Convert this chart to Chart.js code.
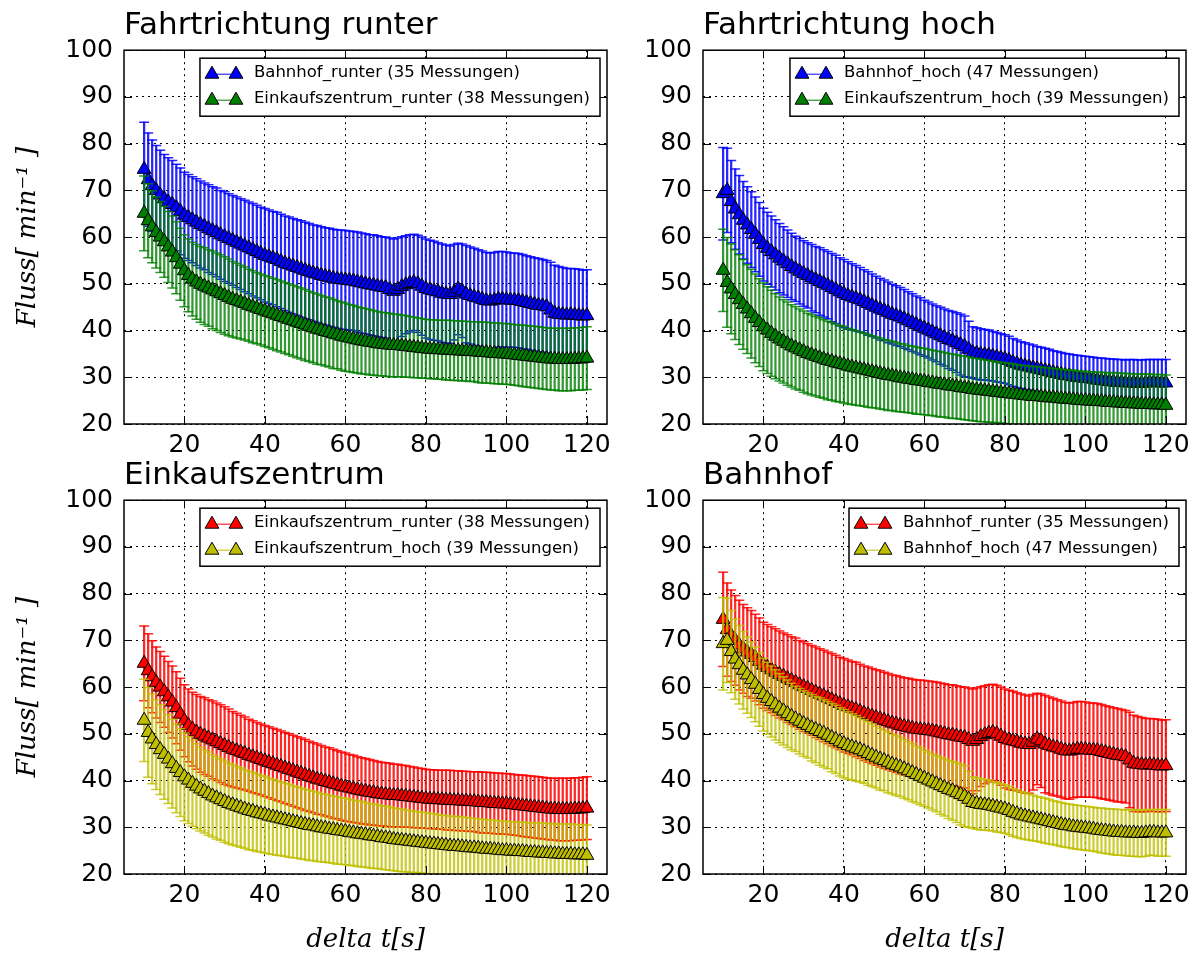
<!DOCTYPE html>
<html>
<head>
<meta charset="utf-8">
<script src="https://cdn.jsdelivr.net/npm/chart.js@4.4.1/dist/chart.umd.min.js"></script>
<style>
  body { margin: 0; background: #fff; width: 1200px; height: 958px; position: relative; overflow: hidden; }
  canvas { position: absolute; }
</style>
</head>
<body>
<canvas id="c1" width="620" height="470" style="left:0;top:0"></canvas>
<canvas id="c2" width="600" height="470" style="left:600px;top:0"></canvas>
<canvas id="c3" width="620" height="508" style="left:0;top:450px"></canvas>
<canvas id="c4" width="600" height="508" style="left:600px;top:450px"></canvas>
<script>
// delta t in seconds
var deltaT = [
  10, 11, 12, 13, 14, 15, 16, 17, 18, 19,
  20, 21, 22, 23, 24, 25, 26, 27, 28, 29,
  30, 31, 32, 33, 34, 35, 36, 37, 38, 39,
  40, 41, 42, 43, 44, 45, 46, 47, 48, 49,
  50, 51, 52, 53, 54, 55, 56, 57, 58, 59,
  60, 61, 62, 63, 64, 65, 66, 67, 68, 69,
  70, 71, 72, 73, 74, 75, 76, 77, 78, 79,
  80, 81, 82, 83, 84, 85, 86, 87, 88, 89,
  90, 91, 92, 93, 94, 95, 96, 97, 98, 99,
  100, 101, 102, 103, 104, 105, 106, 107, 108, 109,
  110, 111, 112, 113, 114, 115, 116, 117, 118, 119, 120
];

var bahnhofRunterMean = [
  74.5, 72.3, 71.0, 70.0, 69.0, 68.2, 67.5, 67.0, 66.3, 65.5,
  64.7, 64.2, 63.7, 63.2, 62.7, 62.3, 61.8, 61.4, 61.0, 60.5,
  60.1, 59.7, 59.3, 58.9, 58.5, 58.1, 57.7, 57.3, 56.9, 56.5,
  56.1, 55.8, 55.5, 55.2, 54.8, 54.4, 54.1, 53.8, 53.5, 53.2,
  52.9, 52.6, 52.3, 52.1, 51.8, 51.6, 51.4, 51.2, 51.0, 50.9,
  50.8, 50.7, 50.6, 50.4, 50.2, 50.0, 49.8, 49.7, 49.5, 49.3,
  49.2, 48.8, 48.4, 48.8, 49.4, 49.8, 50.1, 50.3, 50.0, 49.5,
  49.0, 48.7, 48.5, 48.3, 48.0, 47.8, 47.7, 48.2, 48.9, 48.5,
  47.8, 47.5, 47.2, 47.0, 46.7, 46.4, 46.3, 46.5, 46.7, 46.7,
  46.6, 46.5, 46.5, 46.4, 46.2, 46.0, 45.8, 45.6, 45.4, 45.3,
  45.1, 44.4, 43.7, 43.5, 43.4, 43.3, 43.4, 43.3, 43.2, 43.1, 43.2
];
var bahnhofRunterSd = [
  10.1, 10.0, 9.8, 9.6, 9.6, 9.5, 9.5, 9.4, 9.3, 9.3,
  9.2, 9.2, 9.2, 9.3, 9.3, 9.3, 9.4, 9.4, 9.5, 9.5,
  9.6, 9.6, 9.6, 9.7, 9.7, 9.8, 9.8, 9.9, 9.9, 9.9,
  10.0, 10.0, 10.0, 10.1, 10.1, 10.1, 10.2, 10.2, 10.2, 10.3,
  10.3, 10.3, 10.3, 10.4, 10.4, 10.4, 10.5, 10.5, 10.5, 10.6,
  10.6, 10.6, 10.6, 10.7, 10.7, 10.7, 10.7, 10.8, 10.8, 10.8,
  10.8, 11.0, 11.2, 11.0, 10.7, 10.5, 10.4, 10.3, 10.4, 10.5,
  10.6, 10.6, 10.6, 10.5, 10.5, 10.5, 10.4, 10.2, 9.8, 10.0,
  10.4, 10.4, 10.4, 10.3, 10.3, 10.3, 10.3, 10.2, 10.2, 10.2,
  10.2, 10.1, 10.1, 10.1, 10.1, 10.0, 10.0, 10.0, 10.0, 9.9,
  9.9, 10.2, 10.3, 10.2, 10.1, 10.0, 9.9, 9.9, 9.9, 9.8, 9.8
];

var einkaufRunterMean = [
  65.1, 63.5, 62.2, 61.0, 60.0, 59.0, 57.9, 56.8, 55.6, 54.2,
  52.8, 51.8, 51.0, 50.4, 49.9, 49.5, 49.1, 48.7, 48.3, 47.9,
  47.5, 47.1, 46.7, 46.4, 46.1, 45.8, 45.4, 45.1, 44.8, 44.5,
  44.2, 43.9, 43.6, 43.3, 43.0, 42.7, 42.4, 42.1, 41.8, 41.5,
  41.2, 40.9, 40.6, 40.3, 40.1, 39.8, 39.6, 39.3, 39.1, 38.8,
  38.6, 38.4, 38.2, 38.0, 37.8, 37.7, 37.5, 37.4, 37.2, 37.1,
  37.0, 36.9, 36.8, 36.8, 36.7, 36.6, 36.5, 36.4, 36.3, 36.2,
  36.1, 36.0, 36.0, 35.9, 35.9, 35.8, 35.8, 35.7, 35.7, 35.6,
  35.6, 35.5, 35.5, 35.4, 35.3, 35.3, 35.2, 35.1, 35.1, 35.0,
  35.0, 34.9, 34.8, 34.7, 34.6, 34.5, 34.4, 34.3, 34.2, 34.1,
  34.0, 33.9, 33.9, 33.8, 33.8, 33.8, 33.8, 33.9, 33.9, 34.0, 34.1
];
var einkaufRunterSd = [
  8.0, 7.9, 7.7, 7.6, 7.6, 7.6, 7.6, 7.7, 7.7, 7.7,
  7.7, 7.8, 7.9, 8.0, 8.1, 8.2, 8.2, 8.3, 8.3, 8.3,
  8.3, 8.2, 8.1, 8.0, 7.9, 7.8, 7.7, 7.7, 7.6, 7.6,
  7.6, 7.6, 7.6, 7.6, 7.6, 7.6, 7.6, 7.6, 7.6, 7.6,
  7.6, 7.5, 7.5, 7.5, 7.4, 7.4, 7.4, 7.4, 7.3, 7.3,
  7.3, 7.2, 7.2, 7.1, 7.1, 7.0, 7.0, 6.9, 6.9, 6.8,
  6.8, 6.8, 6.7, 6.7, 6.6, 6.6, 6.5, 6.5, 6.4, 6.4,
  6.3, 6.3, 6.3, 6.3, 6.3, 6.4, 6.4, 6.4, 6.4, 6.4,
  6.4, 6.4, 6.4, 6.5, 6.5, 6.5, 6.5, 6.5, 6.5, 6.5,
  6.5, 6.5, 6.5, 6.5, 6.6, 6.6, 6.6, 6.6, 6.6, 6.6,
  6.6, 6.6, 6.6, 6.7, 6.7, 6.7, 6.7, 6.7, 6.7, 6.7, 6.7
];

var bahnhofHochMean = [
  69.3, 70.0, 67.6, 66.0, 64.8, 63.6, 62.6, 61.6, 60.6, 59.5,
  58.4, 57.6, 56.9, 56.2, 55.5, 54.9, 54.3, 53.7, 53.2, 52.7,
  52.2, 51.8, 51.3, 50.9, 50.5, 50.1, 49.7, 49.2, 48.8, 48.3,
  47.9, 47.5, 47.2, 46.9, 46.6, 46.2, 45.8, 45.4, 45.0, 44.6,
  44.3, 43.9, 43.5, 43.2, 42.9, 42.5, 42.1, 41.7, 41.3, 40.9,
  40.5, 40.1, 39.7, 39.3, 38.9, 38.5, 38.1, 37.8, 37.4, 37.0,
  36.6, 36.0, 35.3, 35.1, 34.9, 34.8, 34.7, 34.5, 34.3, 34.1,
  33.9, 33.6, 33.2, 32.9, 32.6, 32.4, 32.2, 32.0, 31.8, 31.6,
  31.4, 31.2, 31.0, 30.8, 30.6, 30.4, 30.3, 30.1, 30.0, 29.9,
  29.8, 29.7, 29.6, 29.4, 29.3, 29.2, 29.1, 29.0, 28.9, 28.9,
  28.8, 28.8, 28.8, 28.7, 28.7, 28.8, 28.9, 28.9, 28.8, 28.8, 28.8
];
var bahnhofHochSd = [
  9.9, 9.0, 8.8, 8.6, 8.4, 8.3, 8.2, 8.1, 8.0, 7.9,
  7.8, 7.7, 7.6, 7.5, 7.4, 7.3, 7.2, 7.1, 7.0, 7.0,
  7.0, 7.0, 7.1, 7.1, 7.2, 7.2, 7.2, 7.3, 7.3, 7.3,
  7.3, 7.2, 7.1, 7.0, 6.9, 6.8, 6.8, 6.7, 6.6, 6.6,
  6.5, 6.5, 6.4, 6.4, 6.3, 6.3, 6.2, 6.2, 6.1, 6.1,
  6.0, 6.0, 6.0, 6.0, 6.1, 6.1, 6.2, 6.3, 6.4, 6.5,
  6.5, 6.0, 5.5, 5.5, 5.5, 5.4, 5.4, 5.3, 5.3, 5.2,
  5.2, 5.2, 5.1, 5.1, 5.0, 5.0, 4.9, 4.9, 4.8, 4.8,
  4.8, 4.8, 4.7, 4.7, 4.7, 4.7, 4.7, 4.7, 4.7, 4.7,
  4.7, 4.7, 4.7, 4.7, 4.8, 4.8, 4.8, 4.9, 4.9, 4.9,
  4.9, 5.0, 5.0, 5.0, 5.0, 5.0, 4.9, 4.9, 5.0, 5.0, 5.0
];

var einkaufHochMean = [
  52.9, 50.3, 48.9, 47.7, 46.6, 45.6, 44.6, 43.6, 42.6, 41.7,
  40.8, 40.1, 39.4, 38.8, 38.2, 37.7, 37.2, 36.7, 36.3, 35.9,
  35.5, 35.1, 34.8, 34.5, 34.2, 33.9, 33.6, 33.4, 33.1, 32.9,
  32.7, 32.4, 32.2, 32.0, 31.8, 31.6, 31.4, 31.2, 31.0, 30.8,
  30.6, 30.4, 30.3, 30.1, 29.9, 29.8, 29.6, 29.5, 29.3, 29.2,
  29.1, 28.9, 28.8, 28.6, 28.5, 28.4, 28.2, 28.1, 28.0, 27.8,
  27.7, 27.6, 27.4, 27.3, 27.2, 27.1, 27.0, 26.9, 26.8, 26.7,
  26.6, 26.5, 26.4, 26.3, 26.2, 26.1, 26.0, 25.9, 25.9, 25.8,
  25.7, 25.6, 25.6, 25.5, 25.4, 25.3, 25.3, 25.2, 25.1, 25.0,
  25.0, 24.9, 24.9, 24.8, 24.8, 24.7, 24.6, 24.6, 24.5, 24.5,
  24.4, 24.4, 24.3, 24.3, 24.2, 24.2, 24.2, 24.1, 24.1, 24.1, 24.0
];
var einkaufHochSd = [
  8.8, 9.6, 9.6, 9.6, 9.6, 9.6, 9.5, 9.5, 9.5, 9.4,
  9.4, 9.3, 9.2, 9.1, 9.0, 8.9, 8.9, 8.8, 8.8, 8.7,
  8.7, 8.6, 8.6, 8.5, 8.5, 8.4, 8.4, 8.3, 8.3, 8.2,
  8.2, 8.1, 8.0, 8.0, 7.9, 7.8, 7.8, 7.7, 7.6, 7.6,
  7.5, 7.5, 7.4, 7.4, 7.3, 7.3, 7.2, 7.2, 7.2, 7.1,
  7.1, 7.1, 7.0, 7.0, 7.0, 6.9, 6.9, 6.9, 6.8, 6.8,
  6.8, 6.8, 6.7, 6.7, 6.7, 6.6, 6.6, 6.6, 6.5, 6.5,
  6.5, 6.5, 6.5, 6.4, 6.4, 6.4, 6.4, 6.4, 6.4, 6.4,
  6.4, 6.4, 6.3, 6.3, 6.3, 6.3, 6.3, 6.3, 6.3, 6.3,
  6.3, 6.3, 6.3, 6.3, 6.3, 6.3, 6.3, 6.4, 6.4, 6.4,
  6.4, 6.4, 6.4, 6.4, 6.5, 6.5, 6.5, 6.5, 6.5, 6.5, 6.5
];

var xTicks = [20, 40, 60, 80, 100, 120];
var yTicks = [20, 30, 40, 50, 60, 70, 80, 90, 100];

var bahnhofRunter = {label: 'Bahnhof_runter (35 Messungen)', mean: bahnhofRunterMean, sd: bahnhofRunterSd};
var einkaufRunter = {label: 'Einkaufszentrum_runter (38 Messungen)', mean: einkaufRunterMean, sd: einkaufRunterSd};
var bahnhofHoch = {label: 'Bahnhof_hoch (47 Messungen)', mean: bahnhofHochMean, sd: bahnhofHochSd};
var einkaufHoch = {label: 'Einkaufszentrum_hoch (39 Messungen)', mean: einkaufHochMean, sd: einkaufHochSd};

var colors = {
  blue:   {line: '#0000ff', bar: 'rgba(0,0,255,0.85)'},
  green:  {line: '#008000', bar: 'rgba(0,128,0,0.8)'},
  red:    {line: '#ff0000', bar: 'rgba(255,0,0,0.85)'},
  yellow: {line: '#bfbf00', bar: 'rgba(191,191,0,0.8)'}
};

var panels = [
  {id: 'c1', title: 'Fahrtrichtung runter', series: [[bahnhofRunter, 'blue'], [einkaufRunter, 'green']], left: true, bottom: false},
  {id: 'c2', title: 'Fahrtrichtung hoch', series: [[bahnhofHoch, 'blue'], [einkaufHoch, 'green']], left: false, bottom: false},
  {id: 'c3', title: 'Einkaufszentrum', series: [[einkaufRunter, 'red'], [einkaufHoch, 'yellow']], left: true, bottom: true},
  {id: 'c4', title: 'Bahnhof', series: [[bahnhofRunter, 'red'], [bahnhofHoch, 'yellow']], left: false, bottom: true}
];

function seriesDatasets(s, colorName, order) {
  var c = colors[colorName];
  var bars = deltaT.map(function(x, i) { return {x: x, y: [s.mean[i] - s.sd[i], s.mean[i] + s.sd[i]]}; });
  var caps = [];
  deltaT.forEach(function(x, i) {
    caps.push({x: x, y: s.mean[i] + s.sd[i]});
    caps.push({x: x, y: s.mean[i] - s.sd[i]});
  });
  return [
    {type: 'bar', data: bars, backgroundColor: c.bar, barThickness: 1.6, grouped: false, clip: 0, order: order + 2},
    {type: 'line', data: caps, showLine: false, pointStyle: 'line', pointRadius: 5, borderColor: c.bar,
     pointBorderColor: c.bar, pointBorderWidth: 1.5, clip: 0, order: order + 1},
    {type: 'line', label: s.label, legendEntry: true, data: deltaT.map(function(x, i) { return {x: x, y: s.mean[i]}; }),
     borderColor: c.line, borderWidth: 1, pointStyle: 'triangle', pointRadius: 8, pointBackgroundColor: c.line,
     pointBorderColor: '#000', pointBorderWidth: 1, clip: 0, order: order}
  ];
}

function strokeLine(ctx, x1, y1, x2, y2) {
  ctx.beginPath();
  ctx.moveTo(x1, y1);
  ctx.lineTo(x2, y2);
  ctx.stroke();
}

// matplotlib style box around the axes with inward ticks on every side
var framePlugin = {
  id: 'frame',
  afterDatasetsDraw: function(chart) {
    var ctx = chart.ctx, a = chart.chartArea, xs = chart.scales.x, ys = chart.scales.y;
    ctx.save();
    ctx.strokeStyle = '#000';
    ctx.lineWidth = 1;
    xTicks.forEach(function(v) {
      var px = Math.round(xs.getPixelForValue(v)) + 0.5;
      strokeLine(ctx, px, a.bottom, px, a.bottom - 8);
      strokeLine(ctx, px, a.top, px, a.top + 8);
    });
    yTicks.forEach(function(v) {
      var py = Math.round(ys.getPixelForValue(v)) + 0.5;
      strokeLine(ctx, a.left, py, a.left + 8, py);
      strokeLine(ctx, a.right, py, a.right - 8, py);
    });
    ctx.lineWidth = 1.5;
    ctx.strokeRect(a.left, a.top, a.right - a.left, a.bottom - a.top);
    ctx.restore();
  }
};

function triangle(ctx, x, y, r) {
  ctx.beginPath();
  ctx.moveTo(x, y - r);
  ctx.lineTo(x + r * 0.866, y + r / 2);
  ctx.lineTo(x - r * 0.866, y + r / 2);
  ctx.closePath();
  ctx.fill();
  ctx.stroke();
}

var boxLegend = {
  id: 'boxLegend',
  afterDraw: function(chart) {
    var ctx = chart.ctx, a = chart.chartArea;
    var items = chart.data.datasets.filter(function(d) { return d.legendEntry; });
    ctx.save();
    ctx.font = '16.5px "DejaVu Sans"';
    var textW = Math.max.apply(null, items.map(function(d) { return ctx.measureText(d.label).width; }));
    var w = 54 + textW + 10, h = 58;
    var left = a.right - 7 - w, top = a.top + 8;
    ctx.fillStyle = '#fff';
    ctx.fillRect(left, top, w, h);
    ctx.strokeStyle = '#000';
    ctx.lineWidth = 1.5;
    ctx.strokeRect(left, top, w, h);
    items.forEach(function(d, i) {
      var cy = top + 16 + i * 26;
      ctx.lineWidth = 1;
      ctx.strokeStyle = d.borderColor;
      strokeLine(ctx, left + 12, cy, left + 36, cy);
      ctx.fillStyle = d.pointBackgroundColor;
      ctx.strokeStyle = '#000';
      triangle(ctx, left + 12, cy, 8);
      triangle(ctx, left + 36, cy, 8);
      ctx.fillStyle = '#000';
      ctx.textAlign = 'left';
      ctx.textBaseline = 'middle';
      ctx.fillText(d.label, left + 54, cy - 1);
    });
    ctx.restore();
  }
};

panels.forEach(function(p) {
  var datasets = seriesDatasets(p.series[0][0], p.series[0][1], 4)
    .concat(seriesDatasets(p.series[1][0], p.series[1][1], 1));
  var yWidth = p.left ? 124 : 103;
  var xHeight = p.bottom ? 84 : 46;
  new Chart(document.getElementById(p.id), {
    type: 'line',
    data: {datasets: datasets},
    options: {
      responsive: false,
      animation: false,
      events: [],
      devicePixelRatio: 1,
      layout: {padding: {left: 0, top: 0, bottom: 0, right: p.left ? 13 : 14}},
      plugins: {
        legend: {display: false},
        tooltip: {enabled: false},
        title: {
          display: true, text: p.title, align: 'start', fullSize: false, color: '#000',
          font: {family: 'DejaVu Sans', size: 31, weight: 'normal'},
          padding: {top: 7, bottom: 6}
        }
      },
      scales: {
        x: {
          type: 'linear', min: 5, max: 125, offset: false,
          afterBuildTicks: function(s) { s.ticks = xTicks.map(function(v) { return {value: v}; }); },
          afterFit: function(s) { s.height = xHeight; },
          grid: {color: '#000', lineWidth: 1, drawTicks: false, offset: false},
          border: {display: false, dash: [2, 4]},
          ticks: {color: '#000', font: {family: 'DejaVu Sans', size: 25}, padding: 6, maxRotation: 0, autoSkip: false},
          title: {
            display: p.bottom, text: 'delta t[s]', color: '#000',
            font: {family: 'DejaVu Serif', style: 'italic', size: 26},
            padding: {top: 0, bottom: 2}
          }
        },
        y: {
          type: 'linear', min: 20, max: 100,
          afterBuildTicks: function(s) { s.ticks = yTicks.map(function(v) { return {value: v}; }); },
          afterFit: function(s) { s.width = yWidth; },
          grid: {color: '#000', lineWidth: 1, drawTicks: false, offset: false},
          border: {display: false, dash: [2, 4]},
          ticks: {color: '#000', font: {family: 'DejaVu Sans', size: 25}, padding: 11, autoSkip: false},
          title: {
            display: p.left, text: 'Fluss[ min⁻¹ ]', color: '#000',
            font: {family: 'DejaVu Serif', style: 'italic', size: 26},
            padding: {top: 13, bottom: 0}
          }
        }
      }
    },
    plugins: [framePlugin, boxLegend]
  });
});
</script>
</body>
</html>
